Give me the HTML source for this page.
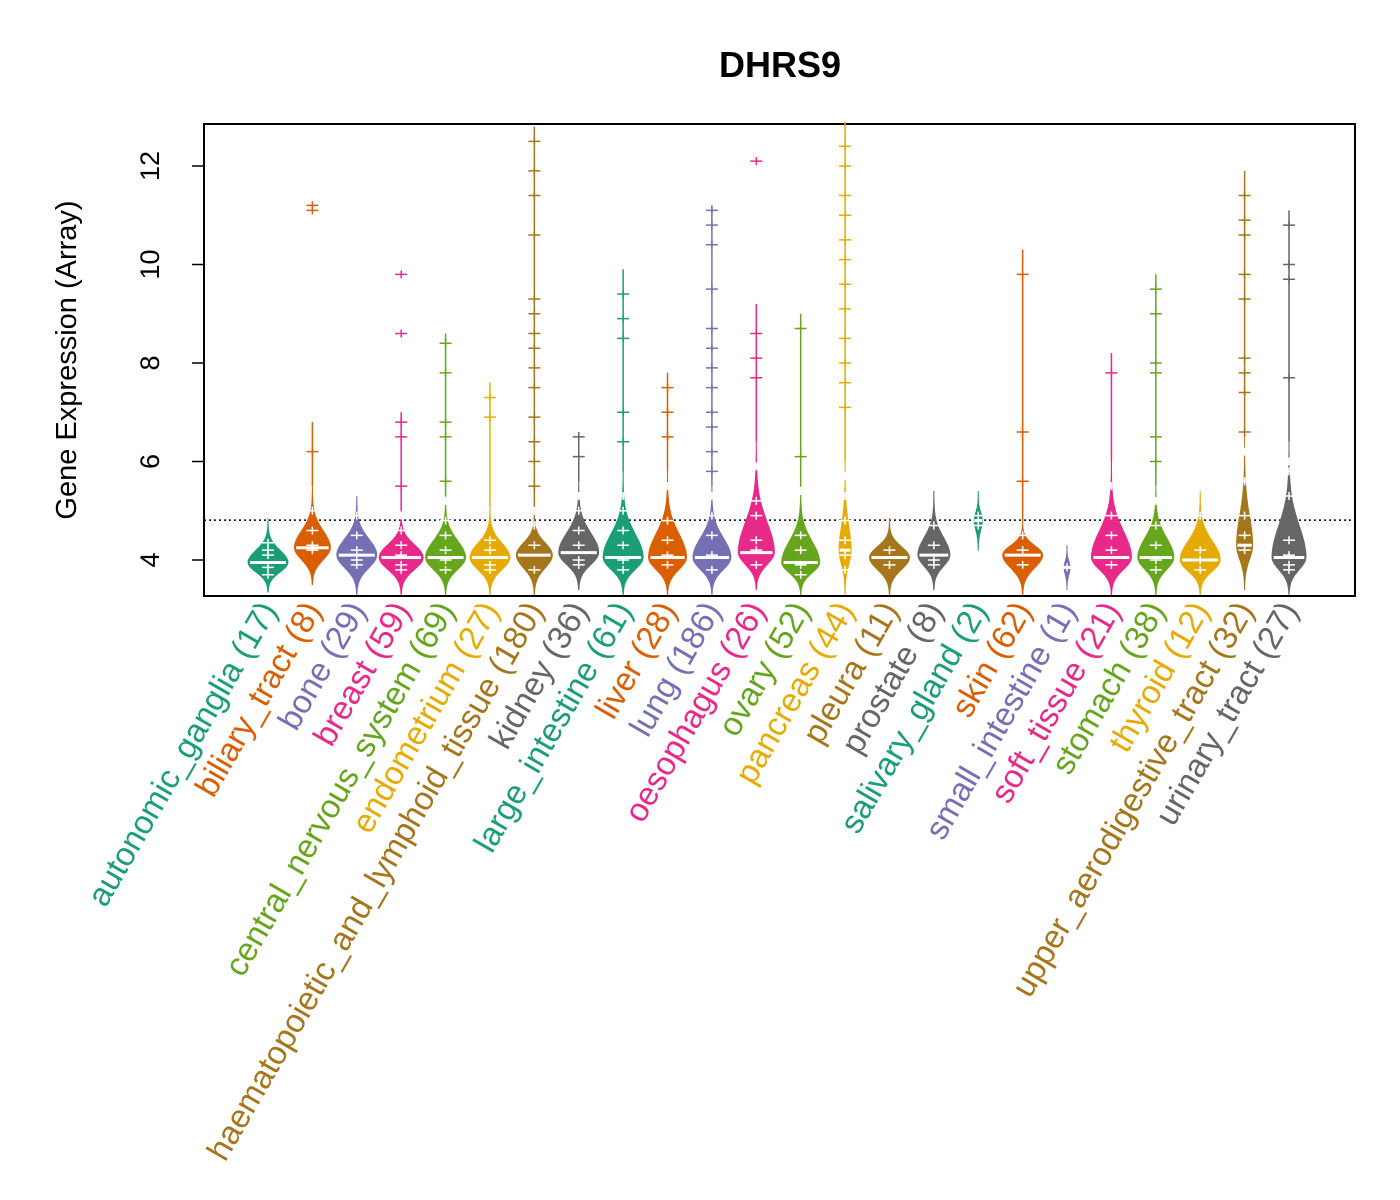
<!DOCTYPE html>
<html><head><meta charset="utf-8"><style>
html,body{margin:0;padding:0;background:#fff;}
svg{display:block;font-family:"Liberation Sans",Arial,sans-serif;}
</style></head><body>
<svg id="chart" width="1400" height="1200">
<text x="780" y="77" text-anchor="middle" font-size="36" font-weight="bold">DHRS9</text>
<rect x="204" y="124" width="1151" height="472" fill="none" stroke="#000" stroke-width="2"/>
<text transform="translate(76,360) rotate(-90)" text-anchor="middle" font-size="29">Gene Expression (Array)</text>
<g id="yaxis"></g>
<g id="beans"></g>
<g id="xlabels"></g>
</svg>
<script>
const categories=["autonomic_ganglia","biliary_tract","bone","breast","central_nervous_system","endometrium","haematopoietic_and_lymphoid_tissue","kidney","large_intestine","liver","lung","oesophagus","ovary","pancreas","pleura","prostate","salivary_gland","skin","small_intestine","soft_tissue","stomach","thyroid","upper_aerodigestive_tract","urinary_tract"];
const counts=[17,8,29,59,69,27,180,36,61,28,186,26,52,44,11,8,2,62,1,21,38,12,32,27];
const medians=[3.95,4.25,4.1,4.05,4.05,4.05,4.1,4.15,4.05,4.05,4.05,4.15,3.95,4.2,4.05,4.1,4.8,4.1,3.85,4.05,4.05,4.0,4.3,4.05];
const bodyLow=[3.35,3.5,3.3,3.3,3.3,3.3,3.3,3.4,3.3,3.3,3.3,3.4,3.3,3.3,3.3,3.4,4.2,3.3,3.4,3.3,3.3,3.3,3.4,3.3];
const bodyHigh=[4.85,5.5,5.3,5.0,5.3,5.1,5.0,5.6,5.8,5.8,5.5,6.4,5.5,6.0,4.85,5.4,5.4,4.8,4.3,6.0,5.5,5.4,6.5,6.4];
const tailMax=[4.85,6.8,5.3,7.0,8.6,7.6,12.8,6.6,9.9,7.8,11.2,9.2,9.0,12.9,4.85,5.4,5.4,10.3,4.3,8.2,9.8,5.4,11.9,11.1];
const bodyWidth=[20,18,20,22,20,20,18,20,20,19,19,18,19,6,20,16,4,20,3,20,18,20,8,17];
const points=[
[3.7,3.85,4.1,4.2,4.35],
[4.2,4.3,4.6,5.0,6.2,11.1,11.2],
[3.9,4.0,4.2,4.5,4.9],
[3.8,3.9,4.1,4.3,4.6,4.9,5.5,6.5,6.8,8.6,9.8],
[3.8,4.0,4.2,4.5,4.8,5.2,5.6,6.5,6.8,7.8,8.4],
[3.8,3.9,4.2,4.4,6.9,7.3],
[3.8,4.3,4.7,5.0,5.5,6.0,6.4,6.9,7.5,7.9,8.3,8.6,9.0,9.3,10.6,11.4,11.9,12.5],
[3.9,4.0,4.3,4.6,5.0,5.3,6.1,6.5],
[3.8,4.0,4.3,4.6,5.0,5.3,6.4,7.0,8.5,8.9,9.4],
[3.9,4.1,4.4,4.8,5.5,6.5,7.0,7.5],
[3.8,4.1,4.5,4.9,5.3,5.8,6.2,6.7,7.0,7.5,7.9,8.3,8.7,9.5,10.4,10.8,11.1],
[3.9,4.2,4.4,4.9,5.2,5.9,7.7,8.1,8.6,12.1],
[3.7,3.9,4.2,4.5,5.4,6.1,8.7],
[3.8,4.1,4.4,4.8,5.3,5.7,7.1,7.6,8.0,8.5,9.1,9.6,10.1,10.5,11.0,11.4,12.0,12.4],
[3.9,4.2],
[3.9,4.0,4.3,4.7],
[4.7,4.9],
[3.9,4.2,4.5,5.6,6.6,9.8],
[3.85],
[3.9,4.2,4.5,4.9,5.5,7.8],
[3.8,4.0,4.3,4.7,5.2,6.0,6.5,7.8,8.0,9.0,9.5],
[3.8,4.0,4.2,4.9],
[4.2,4.5,4.9,5.6,6.2,6.6,7.4,7.8,8.1,9.3,9.8,10.6,10.9,11.4],
[3.8,3.9,4.1,4.4,5.3,5.8,6.0,7.7,9.7,10.0,10.8]
];
const yTicks=[4,6,8,10,12];
const refLine=4.81;
const colors=["#1B9E77","#D95F02","#7570B3","#E7298A","#66A61E","#E6AB02","#A6761D","#666666"];
const NS="http://www.w3.org/2000/svg";
function y(v){return 560-(v-4)*49.25;}
function x(i){return 268+i*(1289-268)/(categories.length-1);}
function mk(tag,attrs,parent){const e=document.createElementNS(NS,tag);for(const k in attrs)e.setAttribute(k,attrs[k]);parent.appendChild(e);return e;}
const ya=document.getElementById('yaxis');
yTicks.forEach(t=>{
 const l=mk('line',{x1:192,x2:204,y1:y(t),y2:y(t),stroke:'#000','stroke-width':1.5},ya);
 
 
 const tx=mk('text',{transform:`translate(159,${y(t)}) rotate(-90)`,'text-anchor':'middle','font-size':27},ya);
 tx.textContent=t;
 
 
});
const beans=document.getElementById('beans');
const rl=mk('line',{x1:204,x2:1355,y1:y(refLine),y2:y(refLine),stroke:'#000','stroke-width':1.5,'stroke-dasharray':'2,3'},beans);


const xl=document.getElementById('xlabels');
categories.forEach((c,i)=>{
 const col=colors[i%8],cx=x(i),g=mk('g',{},beans);
 
 
 if(tailMax[i]>bodyHigh[i]){const t=mk('line',{x1:cx,x2:cx,y1:y(bodyHigh[i]),y2:y(tailMax[i]),stroke:col,'stroke-width':1.5},g);
 
 }
 const lo=bodyLow[i],hi=bodyHigh[i],md=medians[i],w=bodyWidth[i];
 let R=[],L=[];const N=40;
 for(let k=0;k<=N;k++){const v=lo+(hi-lo)*k/N;
  const s=v<md?(md-lo)/2.2:(hi-md)/2.6;
  let f=Math.exp(-Math.pow((v-md)/s,2));
  R.push(`${(cx+w*f).toFixed(1)},${y(v).toFixed(1)}`);L.unshift(`${(cx-w*f).toFixed(1)},${y(v).toFixed(1)}`);}
 const p=mk('polygon',{points:R.concat(L).join(' '),fill:col,stroke:col,'stroke-width':1},g);
 
 
 points[i].forEach(v=>{
  const inside=v>=lo&&v<=hi, c2=inside?'#fff':col;
  const pl=mk('path',{d:`M${cx-6},${y(v)}H${cx+6}M${cx},${y(v)-4}V${y(v)+4}`,stroke:c2,'stroke-width':1.5,fill:'none'},g);
  
  
 });
 const ml=mk('line',{x1:cx-Math.max(w*0.9,4),x2:cx+Math.max(w*0.9,4),y1:y(md),y2:y(md),stroke:'#fff','stroke-width':3},g);
 
 
 const tx=mk('text',{transform:`translate(${cx+10},${610}) rotate(-60)`,'text-anchor':'end','font-size':33,fill:col},xl);
 tx.textContent=`${c} (${counts[i]})`;
 
 
});
</script>
</body></html>
